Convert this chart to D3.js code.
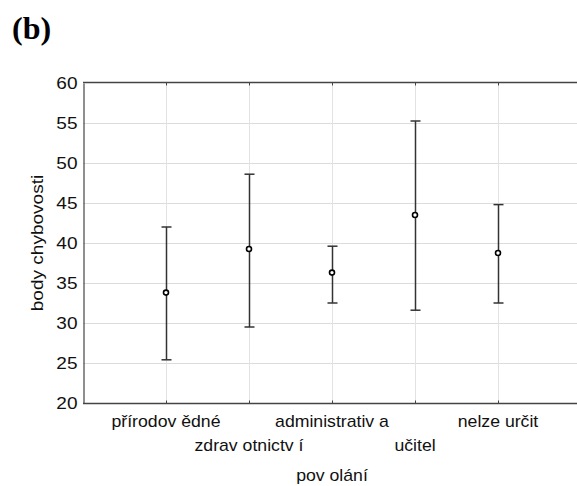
<!DOCTYPE html>
<html>
<head>
<meta charset="utf-8">
<script src="https://cdn.jsdelivr.net/npm/d3@7"></script>
<style>
  html, body { margin: 0; padding: 0; background: #fff; overflow: hidden; }
  svg { display: block; overflow: hidden; }
</style>
</head>
<body>
<svg id="chart" width="577" height="486"></svg>
<script>
const categories = ["přírodov ědné", "zdrav otnictv í", "administrativ a", "učitel", "nelze určit"];
const means  = [33.8, 39.25, 36.3, 43.5, 38.75];
const lowers = [25.4, 29.5, 32.5, 31.6, 32.5];
const uppers = [42.0, 48.6, 39.6, 55.25, 44.8];
const yTicks = [20, 25, 30, 35, 40, 45, 50, 55, 60];
const yLabel = "body chybovosti";
const xLabel = "pov olání";
const panelTitle = "(b)";

(function () {
const svg = d3.select("#chart");
const pLeft = 83, pRight = 581, pTop = 83, pBottom = 403;
const drawRight = 590;

const x = d3.scalePoint().domain(categories).range([pLeft, pRight]).padding(1);
const y = d3.scaleLinear().domain([20, 60]).range([pBottom, pTop]);

const font = "'Liberation Sans', Arial, sans-serif";
const fs = 17;

// grid
svg.append("g").selectAll("line").data(yTicks.filter(t => t > 20 && t < 60)).join("line")
  .attr("x1", pLeft).attr("x2", drawRight)
  .attr("y1", d => y(d) + 0.5).attr("y2", d => y(d) + 0.5)
  .attr("stroke", "#dcdcdc").attr("stroke-width", 1);
svg.append("g").selectAll("line").data(categories).join("line")
  .attr("x1", d => Math.round(x(d)) + 0.5).attr("x2", d => Math.round(x(d)) + 0.5)
  .attr("y1", pTop).attr("y2", pBottom)
  .attr("stroke", "#e2e2e2").attr("stroke-width", 1);

// axes
const axisColor = "#444";
const yAxis = svg.append("g").attr("transform", `translate(${pLeft + 0.5},0)`)
  .call(d3.axisLeft(y).tickValues(yTicks).tickSize(0).tickSizeOuter(0).tickPadding(6));
yAxis.select(".domain").attr("stroke", axisColor).attr("stroke-width", 1.2);
yAxis.selectAll(".tick text")
  .attr("font-family", font).attr("font-size", fs).attr("fill", "#111")
  .attr("transform", "translate(-6,0) scale(1.12,1)")
  .attr("x", null).attr("dx", null);

const xAxis = svg.append("g").attr("transform", `translate(0,${pBottom + 0.5})`)
  .call(d3.axisBottom(x).tickSize(-3).tickSizeOuter(0).tickFormat(""));
xAxis.select(".domain").attr("stroke", axisColor).attr("stroke-width", 1.5).attr("d", `M${pLeft},0H${drawRight}`);
xAxis.selectAll(".tick line").attr("stroke", axisColor);

const topAxis = svg.append("g").attr("transform", `translate(0,${pTop - 0.5})`)
  .call(d3.axisTop(x).tickSize(-3).tickSizeOuter(0).tickFormat(""));
topAxis.select(".domain").attr("stroke", axisColor).attr("stroke-width", 1.5).attr("d", `M${pLeft},0H${drawRight}`);
topAxis.selectAll(".tick line").attr("stroke", axisColor);

// category labels, alternating rows
svg.append("g").selectAll("text").data(categories).join("text")
  .attr("transform", (d, i) => `translate(${x(d)},${i % 2 === 0 ? 427 : 451}) scale(1.04,1)`)
  .attr("text-anchor", "middle")
  .attr("font-family", font).attr("font-size", fs).attr("fill", "#111")
  .text(d => d);

// axis titles
svg.append("text")
  .attr("transform", `translate(${x(categories[2])},481) scale(1.04,1)`)
  .attr("text-anchor", "middle")
  .attr("font-family", font).attr("font-size", fs).attr("fill", "#111")
  .text(xLabel);
svg.append("text")
  .attr("transform", `translate(43,${(pTop + pBottom) / 2}) rotate(-90) scale(1.12,1)`)
  .attr("text-anchor", "middle")
  .attr("font-family", font).attr("font-size", fs).attr("fill", "#111")
  .text(yLabel);

// panel title
svg.append("text")
  .attr("x", 12).attr("y", 39)
  .attr("font-family", "'Liberation Serif', 'Times New Roman', serif")
  .attr("font-weight", "bold").attr("font-size", 32).attr("fill", "#000")
  .text(panelTitle);

// error bars
const data = categories.map((c, i) => ({ c, m: means[i], lo: lowers[i], hi: uppers[i] }));
const eb = svg.append("g");
const barColor = "#333";
eb.append("g").selectAll("line").data(data).join("line")
  .attr("x1", d => Math.round(x(d.c)) + 0.5).attr("x2", d => Math.round(x(d.c)) + 0.5)
  .attr("y1", d => y(d.hi)).attr("y2", d => y(d.lo))
  .attr("stroke", barColor).attr("stroke-width", 1.5);
eb.append("g").selectAll("line").data(data).join("line")
  .attr("x1", d => x(d.c) - 4.5).attr("x2", d => x(d.c) + 5.5)
  .attr("y1", d => y(d.hi)).attr("y2", d => y(d.hi))
  .attr("stroke", barColor).attr("stroke-width", 1.5);
eb.append("g").selectAll("line").data(data).join("line")
  .attr("x1", d => x(d.c) - 4.5).attr("x2", d => x(d.c) + 5.5)
  .attr("y1", d => y(d.lo)).attr("y2", d => y(d.lo))
  .attr("stroke", barColor).attr("stroke-width", 1.5);
eb.append("g").selectAll("circle").data(data).join("circle")
  .attr("cx", d => x(d.c)).attr("cy", d => y(d.m))
  .attr("r", 2.5)
  .attr("fill", "#fff").attr("stroke", "#000").attr("stroke-width", 1.6);
})();
</script>
</body>
</html>
